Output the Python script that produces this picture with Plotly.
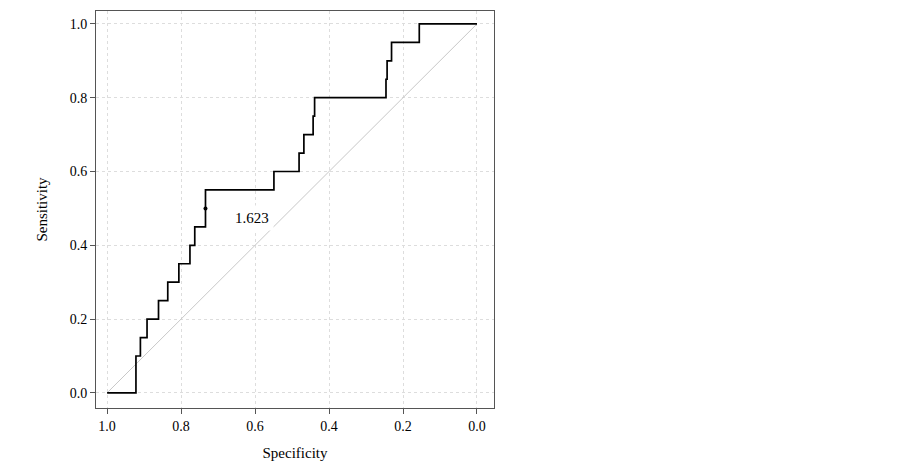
import plotly.graph_objects as go

spec = [1.0, 0.922, 0.922, 0.91, 0.91, 0.892, 0.892, 0.861, 0.861, 0.836, 0.836, 0.806, 0.806,
        0.776, 0.776, 0.763, 0.763, 0.734, 0.734, 0.549, 0.549, 0.481, 0.481, 0.468, 0.468,
        0.443, 0.443, 0.439, 0.439, 0.246, 0.246, 0.243, 0.243, 0.231, 0.231, 0.156, 0.156, 0.0]
sens = [0.0, 0.0, 0.10, 0.10, 0.15, 0.15, 0.20, 0.20, 0.25, 0.25, 0.30, 0.30, 0.35,
        0.35, 0.40, 0.40, 0.45, 0.45, 0.55, 0.55, 0.60, 0.60, 0.65, 0.65, 0.70,
        0.70, 0.75, 0.75, 0.80, 0.80, 0.85, 0.85, 0.90, 0.90, 0.95, 0.95, 1.0, 1.0]
best_spec, best_sens, best_label = 0.734, 0.50, "1.623"
ticks = [1.0, 0.8, 0.6, 0.4, 0.2, 0.0]
tick_text = ["1.0", "0.8", "0.6", "0.4", "0.2", "0.0"]

fig = go.Figure()
fig.add_trace(go.Scatter(x=[1, 0], y=[0, 1], mode="lines",
                         line=dict(color="#c8c8c8", width=1), hoverinfo="skip"))
fig.add_trace(go.Scatter(x=spec, y=sens, mode="lines",
                         line=dict(color="black", width=1.7)))
fig.add_trace(go.Scatter(x=[best_spec], y=[best_sens], mode="markers",
                         marker=dict(color="black", size=4)))
fig.add_annotation(x=0.608, y=0.474, text=best_label, showarrow=False,
                   bgcolor="white", font=dict(size=15, color="black"),
                   borderpad=4)

axis_common = dict(showgrid=True, gridcolor="#dddddd", griddash="dot", gridwidth=1,
                   ticks="outside", ticklen=5, tickcolor="#555", zeroline=False,
                   showline=True, mirror=True, linecolor="#555", linewidth=1,
                   automargin=False,
                   tickfont=dict(size=14, color="black"))
fig.update_layout(
    width=903, height=463, showlegend=False,
    plot_bgcolor="white", paper_bgcolor="white",
    margin=dict(l=88, r=417, t=3, b=63),
    font=dict(family="Liberation Serif", color="black"),
    xaxis=dict(range=[1.03, -0.046], tickvals=ticks, ticktext=tick_text,
               title=dict(text="Specificity", font=dict(size=15), standoff=14),
               **axis_common),
    yaxis=dict(range=[-0.041, 1.035], tickvals=ticks, ticktext=tick_text,
               title=dict(text="Sensitivity", font=dict(size=15), standoff=18),
               **axis_common),
)
fig.write_html("out.html")
